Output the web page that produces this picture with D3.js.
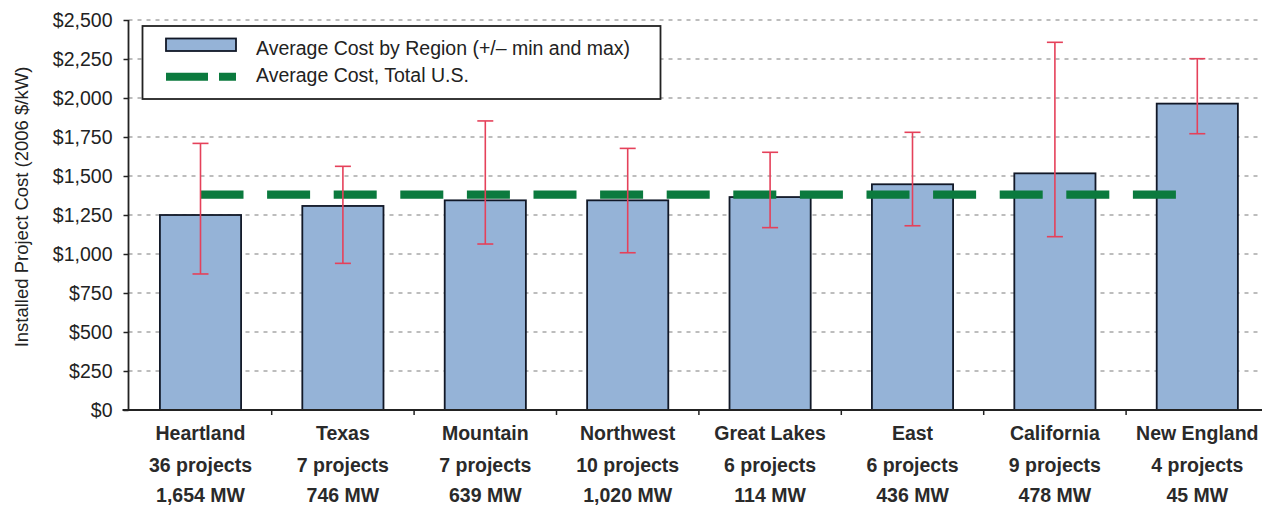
<!DOCTYPE html>
<html>
<head>
<meta charset="utf-8">
<script src="https://cdn.jsdelivr.net/npm/d3@7"></script>
<style>
  html, body { margin: 0; padding: 0; background: #fff; }
  svg { display: block; }
</style>
</head>
<body>
<svg id="chart" width="1262" height="506"></svg>
<script>
// ---- data ----
const categories = ["Heartland", "Texas", "Mountain", "Northwest", "Great Lakes", "East", "California", "New England"];
const projectCounts = ["36 projects", "7 projects", "7 projects", "10 projects", "6 projects", "6 projects", "9 projects", "4 projects"];
const capacities = ["1,654 MW", "746 MW", "639 MW", "1,020 MW", "114 MW", "436 MW", "478 MW", "45 MW"];
const avgCost = [1250, 1308, 1344, 1344, 1365, 1447, 1517, 1964];
const minCost = [872, 940, 1064, 1008, 1169, 1181, 1111, 1771];
const maxCost = [1709, 1562, 1853, 1677, 1652, 1780, 2357, 2252];
const usAverage = 1380;
const yTicks = [0, 250, 500, 750, 1000, 1250, 1500, 1750, 2000, 2250, 2500];
const legendLabels = ["Average Cost by Region (+/\u2013 min and max)", "Average Cost, Total U.S."];

// ---- layout ----
const FONT = "'Liberation Sans', Arial, sans-serif";
const svg = d3.select("#chart");
const x = d3.scaleBand().domain(categories).range([129.3, 1268.5]).paddingInner(0.43).paddingOuter(0.215);
const y = d3.scaleLinear().domain([0, 2500]).range([410, 20]);
const axisX = 128.5;

// gridlines
svg.append("g").selectAll("line").data(yTicks.filter(d => d > 0)).join("line")
  .attr("x1", axisX).attr("x2", 1262)
  .attr("y1", d => y(d)).attr("y2", d => y(d))
  .attr("stroke", "#a8a8a8").attr("stroke-width", 1.4).attr("stroke-dasharray", "4,5");

// bars
svg.append("g").selectAll("rect").data(categories).join("rect")
  .attr("x", d => x(d)).attr("width", x.bandwidth())
  .attr("y", (d, i) => y(avgCost[i])).attr("height", (d, i) => y(0) - y(avgCost[i]))
  .attr("fill", "#95b3d7").attr("stroke", "#111827").attr("stroke-width", 1.8);

// US average dashed line
const cx = d => x(d) + x.bandwidth() / 2;
svg.append("line")
  .attr("x1", cx(categories[0])).attr("x2", cx(categories[categories.length - 1]))
  .attr("y1", y(usAverage)).attr("y2", y(usAverage))
  .attr("stroke", "#0b7a3e").attr("stroke-width", 8.3).attr("stroke-dasharray", "43,23.6");

// error bars
const eb = svg.append("g").attr("stroke", "#e5415a").attr("stroke-width", 1.6);
categories.forEach((c, i) => {
  const xc = cx(c);
  eb.append("line").attr("x1", xc).attr("x2", xc).attr("y1", y(minCost[i])).attr("y2", y(maxCost[i]));
  eb.append("line").attr("x1", xc - 8).attr("x2", xc + 8).attr("y1", y(minCost[i])).attr("y2", y(minCost[i]));
  eb.append("line").attr("x1", xc - 8).attr("x2", xc + 8).attr("y1", y(maxCost[i])).attr("y2", y(maxCost[i]));
});

// y axis
const yAxis = svg.append("g").attr("transform", `translate(${axisX},0)`)
  .call(d3.axisLeft(y).tickValues(yTicks).tickSize(5).tickPadding(11)
    .tickFormat(d => "$" + d3.format(",")(d)));
yAxis.select(".domain").attr("stroke", "#222").attr("stroke-width", 1.8).attr("d", `M0,${y(2500)}V${y(0)}`);
yAxis.selectAll(".tick line").attr("stroke", "#222").attr("stroke-width", 1.5);
yAxis.selectAll(".tick text").attr("font-family", FONT).attr("font-size", "19.5px").attr("fill", "#222");

// x axis
const xAxisG = svg.append("g");
xAxisG.append("line").attr("x1", axisX - 6).attr("x2", 1262).attr("y1", y(0)).attr("y2", y(0))
  .attr("stroke", "#222").attr("stroke-width", 2);
const bounds = categories.slice(1).map(c => x(c) - x.step() * x.paddingInner() / 2);
xAxisG.selectAll(".xt").data(bounds).join("line")
  .attr("x1", d => d).attr("x2", d => d).attr("y1", y(0)).attr("y2", y(0) + 5)
  .attr("stroke", "#222").attr("stroke-width", 1.5);

// category labels
const lab = svg.append("g").attr("font-family", FONT).attr("font-weight", "bold")
  .attr("font-size", "19.5px").attr("fill", "#2a2a2a").attr("text-anchor", "middle");
categories.forEach((c, i) => {
  const t = lab.append("text").attr("x", cx(c));
  t.append("tspan").attr("x", cx(c)).attr("y", 440).text(c);
  t.append("tspan").attr("x", cx(c)).attr("y", 472).text(projectCounts[i]);
  t.append("tspan").attr("x", cx(c)).attr("y", 502).text(capacities[i]);
});

// y axis title
svg.append("text").attr("transform", "translate(28,207) rotate(-90)")
  .attr("text-anchor", "middle").attr("font-family", FONT).attr("font-size", "18.5px").attr("fill", "#222")
  .text("Installed Project Cost (2006 $/kW)");

// legend
const lg = svg.append("g");
lg.append("rect").attr("x", 142.5).attr("y", 26).attr("width", 518).attr("height", 73)
  .attr("fill", "#fff").attr("stroke", "#222").attr("stroke-width", 1.8);
lg.append("rect").attr("x", 166).attr("y", 38.5).attr("width", 70).attr("height", 12.5)
  .attr("fill", "#95b3d7").attr("stroke", "#111827").attr("stroke-width", 1.8);
lg.append("line").attr("x1", 166).attr("x2", 236).attr("y1", 76.7).attr("y2", 76.7)
  .attr("stroke", "#0b7a3e").attr("stroke-width", 8).attr("stroke-dasharray", "42,11");
lg.selectAll("text").data(legendLabels).join("text")
  .attr("x", 256).attr("y", (d, i) => 54.5 + i * 27)
  .attr("font-family", FONT).attr("font-size", "19.5px").attr("fill", "#222").text(d => d);
</script>
</body>
</html>
